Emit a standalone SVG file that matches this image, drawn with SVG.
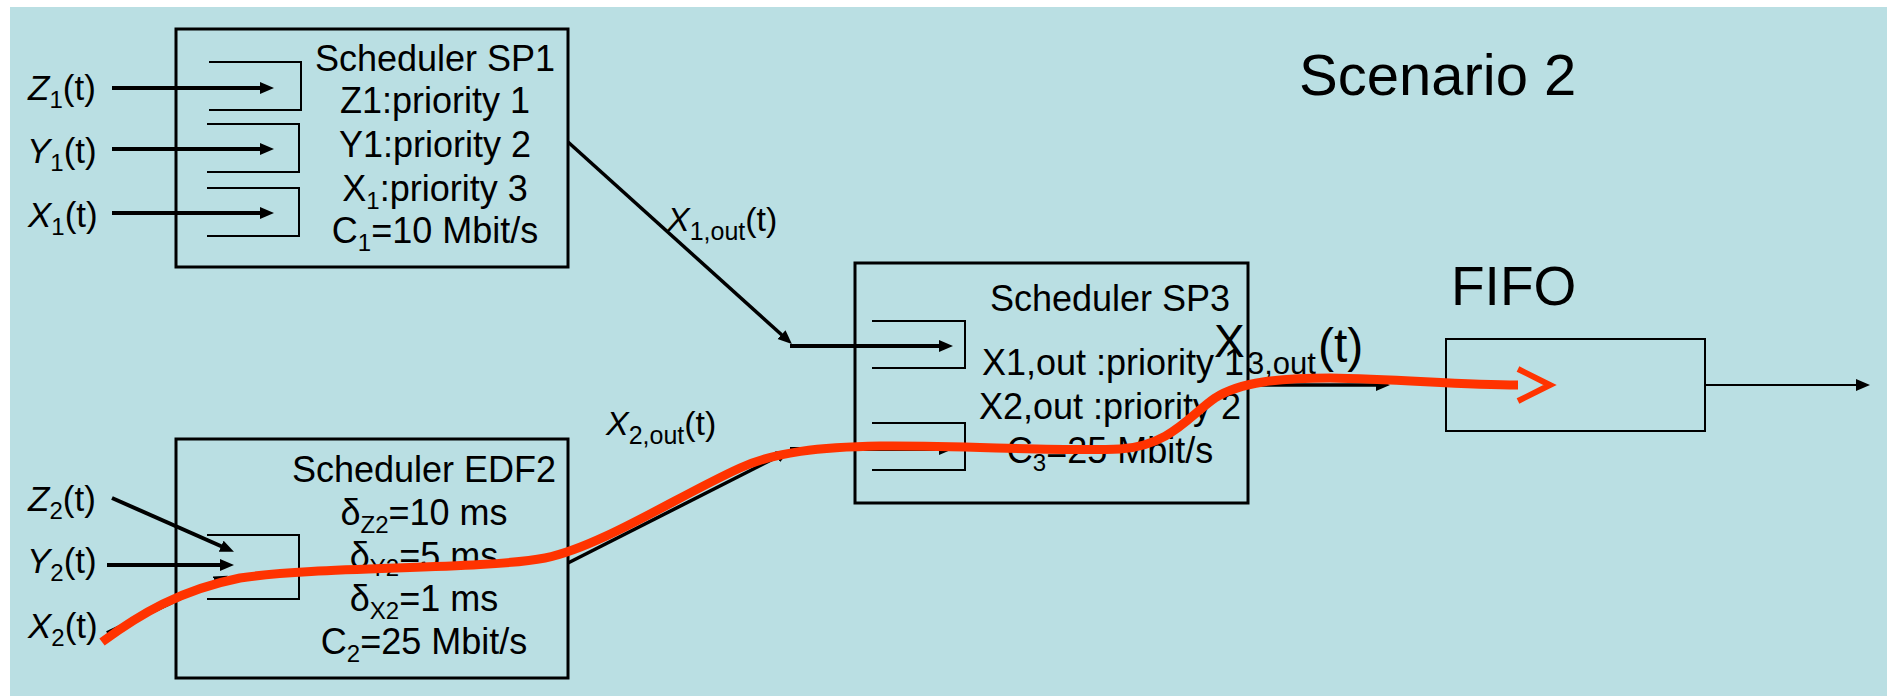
<svg xmlns="http://www.w3.org/2000/svg" width="1887" height="696" viewBox="0 0 1887 696">
<defs>
<style>
text{font-family:"Liberation Sans",Arial,sans-serif;fill:#000}
.t36{font-size:36px}
.lbl{font-size:35px}
.mid{text-anchor:middle}
.box{fill:none;stroke:#000;stroke-width:3}
.br{fill:none;stroke:#000;stroke-width:2}
.thick{stroke:#000;stroke-width:4;fill:none}
.med{stroke:#000;stroke-width:3.5;fill:none}
.thin{stroke:#000;stroke-width:2;fill:none}
.red{fill:none;stroke:#FF3300;stroke-width:9;stroke-linecap:butt}
</style>
<marker id="ah" markerUnits="userSpaceOnUse" markerWidth="16" markerHeight="14" refX="2" refY="6" orient="auto">
<path d="M0,0 L14,6 L0,12 z" fill="#000"/>
</marker>
</defs>
<rect x="10" y="7" width="1877" height="689" fill="#BADFE3"/>

<g id="sp1">
<rect class="box" x="176" y="29" width="392" height="238"/>
<path class="br" d="M209,62 H301 V110 H209"/>
<path class="br" d="M207,124 H299 V172 H207"/>
<path class="br" d="M207,188 H299 V236 H207"/>
<text class="t36 mid" x="435" y="71">Scheduler SP1</text>
<text class="t36 mid" x="435" y="113">Z1:priority 1</text>
<text class="t36 mid" x="435" y="157">Y1:priority 2</text>
<text class="t36 mid" x="435" y="201">X<tspan font-size="24" dy="8">1</tspan><tspan dy="-8">:priority 3</tspan></text>
<text class="t36 mid" x="435" y="243">C<tspan font-size="24" dy="8">1</tspan><tspan dy="-8">=10 Mbit/s</tspan></text>
</g>

<g id="edf2">
<rect class="box" x="176" y="439" width="392" height="239"/>
<path class="br" d="M207,535 H299 V599 H207"/>
<text class="t36 mid" x="424" y="482">Scheduler EDF2</text>
<text class="t36 mid" x="424" y="525">δ<tspan font-size="24" dy="8">Z2</tspan><tspan dy="-8">=10 ms</tspan></text>
<text class="t36 mid" x="424" y="568">δ<tspan font-size="24" dy="8">Y2</tspan><tspan dy="-8">=5 ms</tspan></text>
<text class="t36 mid" x="424" y="611">δ<tspan font-size="24" dy="8">X2</tspan><tspan dy="-8">=1 ms</tspan></text>
<text class="t36 mid" x="424" y="654">C<tspan font-size="24" dy="8">2</tspan><tspan dy="-8">=25 Mbit/s</tspan></text>
</g>

<g id="sp3">
<rect class="box" x="855" y="263" width="393" height="240"/>
<path class="br" d="M872,321 H965 V368 H872"/>
<path class="br" d="M872,423 H965 V470 H872"/>
<text class="t36 mid" x="1110" y="311">Scheduler SP3</text>
<text class="t36 mid" x="1113" y="375">X1,out :priority 1</text>
<text class="t36 mid" x="1110" y="419">X2,out :priority 2</text>
<text class="t36 mid" x="1110" y="463">C<tspan font-size="24" dy="8">3</tspan><tspan dy="-8">=25 Mbit/s</tspan></text>
</g>

<g id="fifo">
<rect x="1446" y="339" width="259" height="92" fill="none" stroke="#000" stroke-width="2"/>
<text x="1451" y="305" font-size="55">FIFO</text>
</g>

<g id="title">
<text x="1299" y="95" font-size="58">Scenario 2</text>
</g>

<g id="inputs">
<text class="lbl" x="28" y="100"><tspan font-style="italic">Z</tspan><tspan font-size="24" dy="8">1</tspan><tspan dy="-8">(t)</tspan></text>
<text class="lbl" x="27" y="163"><tspan font-style="italic">Y</tspan><tspan font-size="24" dy="8">1</tspan><tspan dy="-8">(t)</tspan></text>
<text class="lbl" x="28" y="227"><tspan font-style="italic">X</tspan><tspan font-size="24" dy="8">1</tspan><tspan dy="-8">(t)</tspan></text>
<text class="lbl" x="28" y="511"><tspan font-style="italic">Z</tspan><tspan font-size="24" dy="8">2</tspan><tspan dy="-8">(t)</tspan></text>
<text class="lbl" x="27" y="573"><tspan font-style="italic">Y</tspan><tspan font-size="24" dy="8">2</tspan><tspan dy="-8">(t)</tspan></text>
<text class="lbl" x="28" y="638"><tspan font-style="italic">X</tspan><tspan font-size="24" dy="8">2</tspan><tspan dy="-8">(t)</tspan></text>
</g>

<g id="edge-labels">
<text x="667" y="231" font-size="34"><tspan font-style="italic">X</tspan><tspan font-size="25" dy="9">1,out</tspan><tspan dy="-9">(t)</tspan></text>
<text x="606" y="435" font-size="34"><tspan font-style="italic">X</tspan><tspan font-size="25" dy="9">2,out</tspan><tspan dy="-9">(t)</tspan></text>
<text x="1214" y="357" font-size="46">X</text>
<text x="1247" y="374" font-size="31">3,out</text>
<text x="1318" y="362" font-size="48">(t)</text>
</g>

<g id="connectors">
<line class="thick" x1="112" y1="88" x2="262" y2="88" marker-end="url(#ah)"/>
<line class="thick" x1="112" y1="149" x2="262" y2="149" marker-end="url(#ah)"/>
<line class="thick" x1="112" y1="213" x2="262" y2="213" marker-end="url(#ah)"/>
<line class="thick" x1="112" y1="498" x2="223" y2="547" marker-end="url(#ah)"/>
<line class="thick" x1="107" y1="565" x2="222" y2="565" marker-end="url(#ah)"/>
<line class="thick" x1="107" y1="633" x2="217" y2="581" marker-end="url(#ah)"/>
<line class="med" x1="568" y1="142" x2="783" y2="336" marker-end="url(#ah)"/>
<line class="thick" x1="790" y1="346" x2="941" y2="346" marker-end="url(#ah)"/>
<line class="med" x1="568" y1="563" x2="779" y2="456" marker-end="url(#ah)"/>
<line class="thick" x1="790" y1="449" x2="941" y2="449" marker-end="url(#ah)"/>
<line class="med" x1="1248" y1="385" x2="1378" y2="385" marker-end="url(#ah)"/>
<line class="thin" x1="1705" y1="385" x2="1858" y2="385" marker-end="url(#ah)"/>
</g>

<g id="red-path">
<path class="red" d="M102,642 C140,614 180,590 240,578 C320,566 480,570 545,558 C600,547 680,495 740,468 C775,452 820,447 880,446 C960,445 1060,452 1120,449 C1170,446 1190,415 1215,398 C1240,382 1280,378 1330,378 C1400,379 1460,385 1518,385"/>
<path d="M1518,369 L1550,385 L1518,401" fill="none" stroke="#FF3300" stroke-width="6"/>
</g>
</svg>
